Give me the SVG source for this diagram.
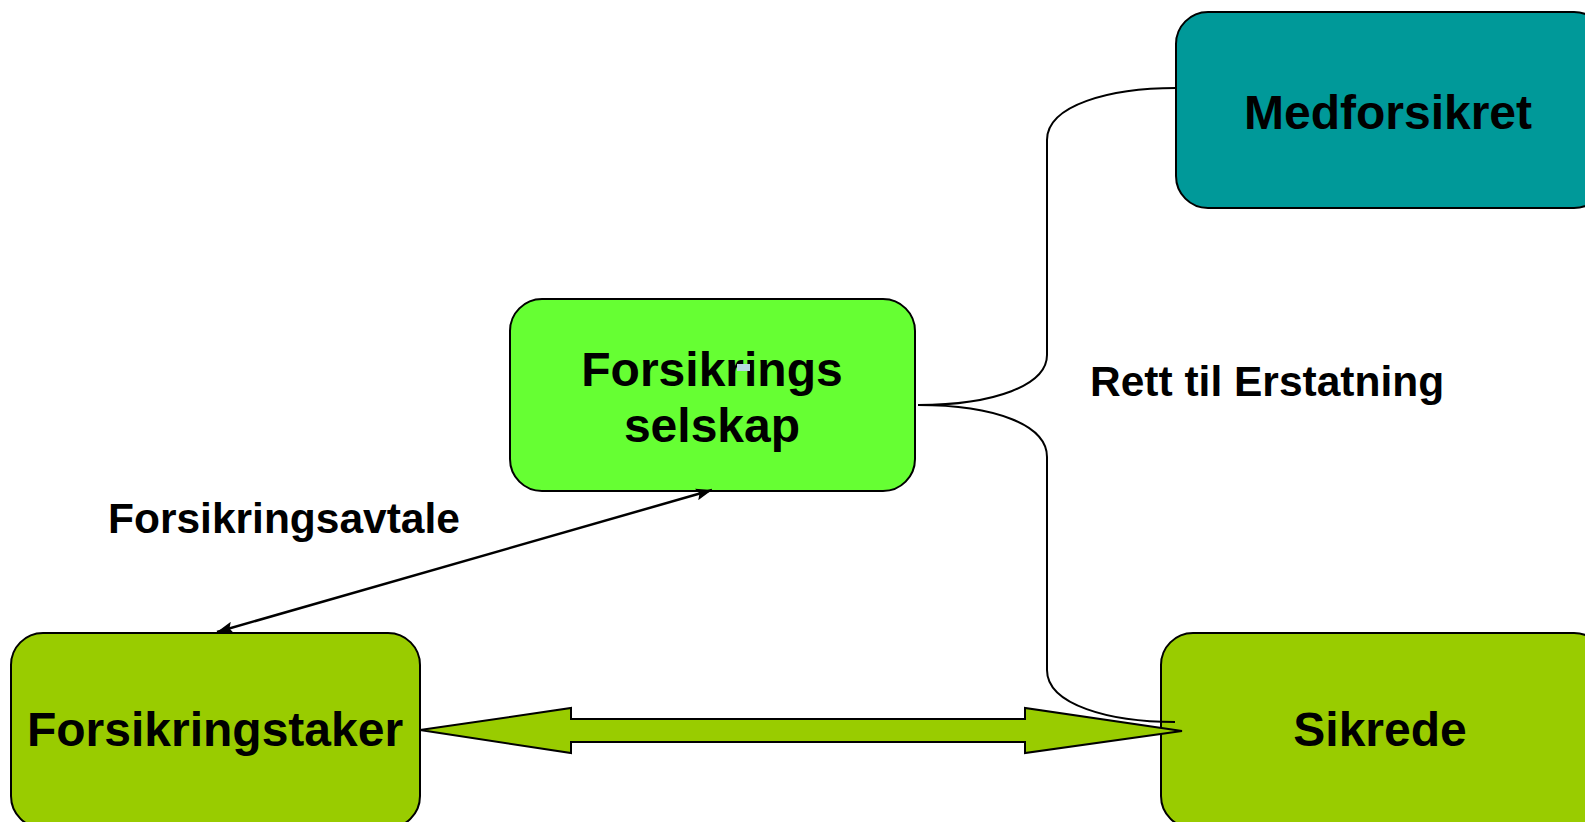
<svg xmlns="http://www.w3.org/2000/svg" width="1585" height="822" viewBox="0 0 1585 822">
<style>
.box{stroke:#000;stroke-width:2}
.t{font-family:"Liberation Sans",Arial,sans-serif;font-weight:bold;fill:#000;text-anchor:middle}
.big{font-size:48px}
.lbl{font-family:"Liberation Sans",Arial,sans-serif;font-weight:bold;fill:#000;font-size:42.5px}
.ln{fill:none;stroke:#000;stroke-width:2}
</style>
<defs>
<marker id="ah" viewBox="0 0 16 12" refX="16" refY="6" markerWidth="16" markerHeight="12" orient="auto-start-reverse" markerUnits="userSpaceOnUse">
<path d="M0,0 L16,6 L0,12 L3,6 z" fill="#000"/>
</marker>
</defs>
<g id="node-selskap">
<rect class="box" x="510" y="299" width="405" height="192" rx="32" fill="#66FF33"/>
<text class="t big" x="712" y="386">Forsikrings</text>
<text class="t big" x="712" y="442">selskap</text>
<rect x="737" y="364" width="13" height="7" fill="#B8D8E0"/>
</g>
<g id="node-medforsikret">
<rect class="box" x="1176" y="12" width="430" height="196" rx="32" fill="#009999"/>
<text class="t big" x="1388" y="129">Medforsikret</text>
</g>
<g id="node-forsikringstaker">
<rect class="box" x="11" y="633" width="409" height="195" rx="32" fill="#99CC00"/>
<text class="t big" x="215" y="746">Forsikringstaker</text>
</g>
<g id="node-sikrede">
<rect class="box" x="1161" y="633" width="445" height="195" rx="32" fill="#99CC00"/>
<text class="t big" x="1380" y="746">Sikrede</text>
</g>
<g id="connectors">
<path class="ln" d="M918,405 C995,405 1047,385 1047,355 L1047,140 C1047,105 1110,88 1176,88"/>
<path class="ln" d="M918,405 C995,405 1047,425 1047,457 L1047,670 C1047,705 1110,722 1175,722"/>
<path d="M217,632 L712,490" stroke="#000" stroke-width="2.5" fill="none" marker-start="url(#ah)" marker-end="url(#ah)"/>
<path d="M420,730 L571,708 L571,719 L1025,719 L1025,708 L1182,731 L1025,753 L1025,742 L571,742 L571,753 Z" fill="#99CC00" stroke="#000" stroke-width="2"/>
</g>
<g id="labels">
<text class="lbl" x="1090" y="396">Rett til Erstatning</text>
<text class="lbl" x="108" y="533">Forsikringsavtale</text>
</g>
</svg>
